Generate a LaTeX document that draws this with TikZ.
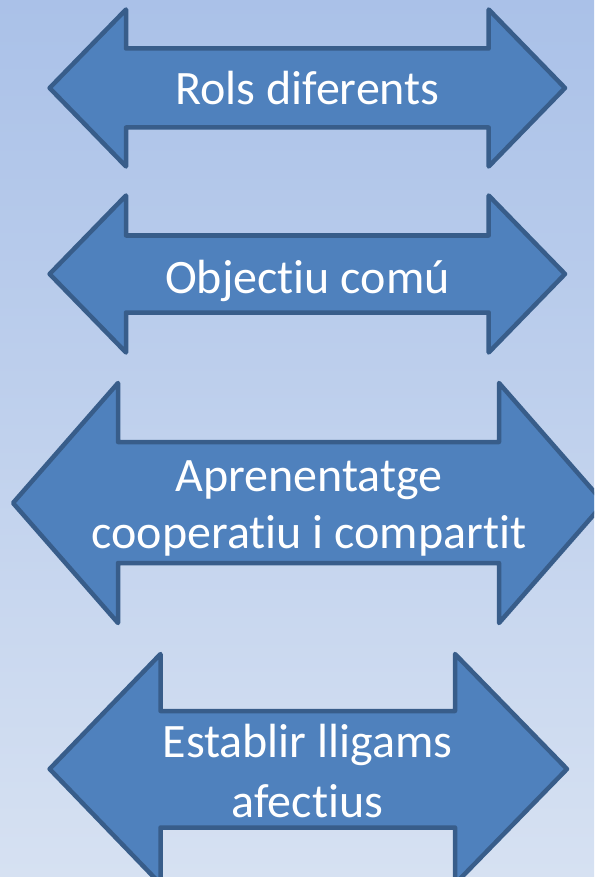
\documentclass[tikz,border=0pt]{standalone}
\usepackage{fontspec}
\newfontfamily\calibri[Ligatures=NoCommon]{Carlito}
\usepackage{tikz}
\usetikzlibrary{positioning}

\definecolor{bgtop}{HTML}{AAC1E8}
\definecolor{bgbottom}{HTML}{D6E1F2}
\definecolor{arrowfill}{HTML}{4F81BD}
\definecolor{arrowline}{HTML}{385D8A}

\tikzset{
  arrowbody/.style={fill=arrowfill, draw=arrowline, line width=4.5pt, line join=round},
  label/.style={anchor=base, text=white, align=center, inner sep=0pt,
    font=\calibri\fontsize{48}{58}\selectfont}
}

\begin{document}
\begin{tikzpicture}[x=1pt,y=-1pt]
    % Draw background
    \useasboundingbox (0,0) rectangle (594,877);
    \clip (0,0) rectangle (594,877);
    \shade[top color=bgtop,bottom color=bgbottom] (0,0) rectangle (594,877);

    % Draw arrows
    \draw[arrowbody] (49.6,88) -- (126,9.5) -- (126,48.5) -- (488.7,48.5) -- (488.7,9.5) -- (565,88)
        -- (488.7,166.5) -- (488.7,127.5) -- (126,127.5) -- (126,166.5) -- cycle;
    \draw[arrowbody] (49.6,274) -- (126,195.5) -- (126,235.5) -- (488.7,235.5) -- (488.7,195.5) -- (565,274)
        -- (488.7,352.5) -- (488.7,312.5) -- (126,312.5) -- (126,352.5) -- cycle;
    \draw[arrowbody] (13,503) -- (118,383) -- (118,442) -- (499,442) -- (499,383) -- (604,503)
        -- (499,623) -- (499,563) -- (118,563) -- (118,623) -- cycle;
    \draw[arrowbody] (49.6,769) -- (160.5,654) -- (160.5,711) -- (455,711) -- (455,654) -- (567,769)
        -- (455,884) -- (455,827.5) -- (160.5,827.5) -- (160.5,884) -- cycle;

    % Draw labels (base = last line)
    \node[label] (rols) at (307.5,105) {Rols diferents};
    \node[label] (objectiu) at (307.5,293) {Objectiu comú};
    \node[label, font=\calibri\fontsize{48}{56.6}\selectfont] (aprenentatge) at (309,548.5) {Aprenentatge\\cooperatiu i compartit};
    \node[label, font=\calibri\fontsize{48}{60}\selectfont] (lligams) at (307.5,817) {Establir lligams\\afectius};
\end{tikzpicture}
\end{document}
